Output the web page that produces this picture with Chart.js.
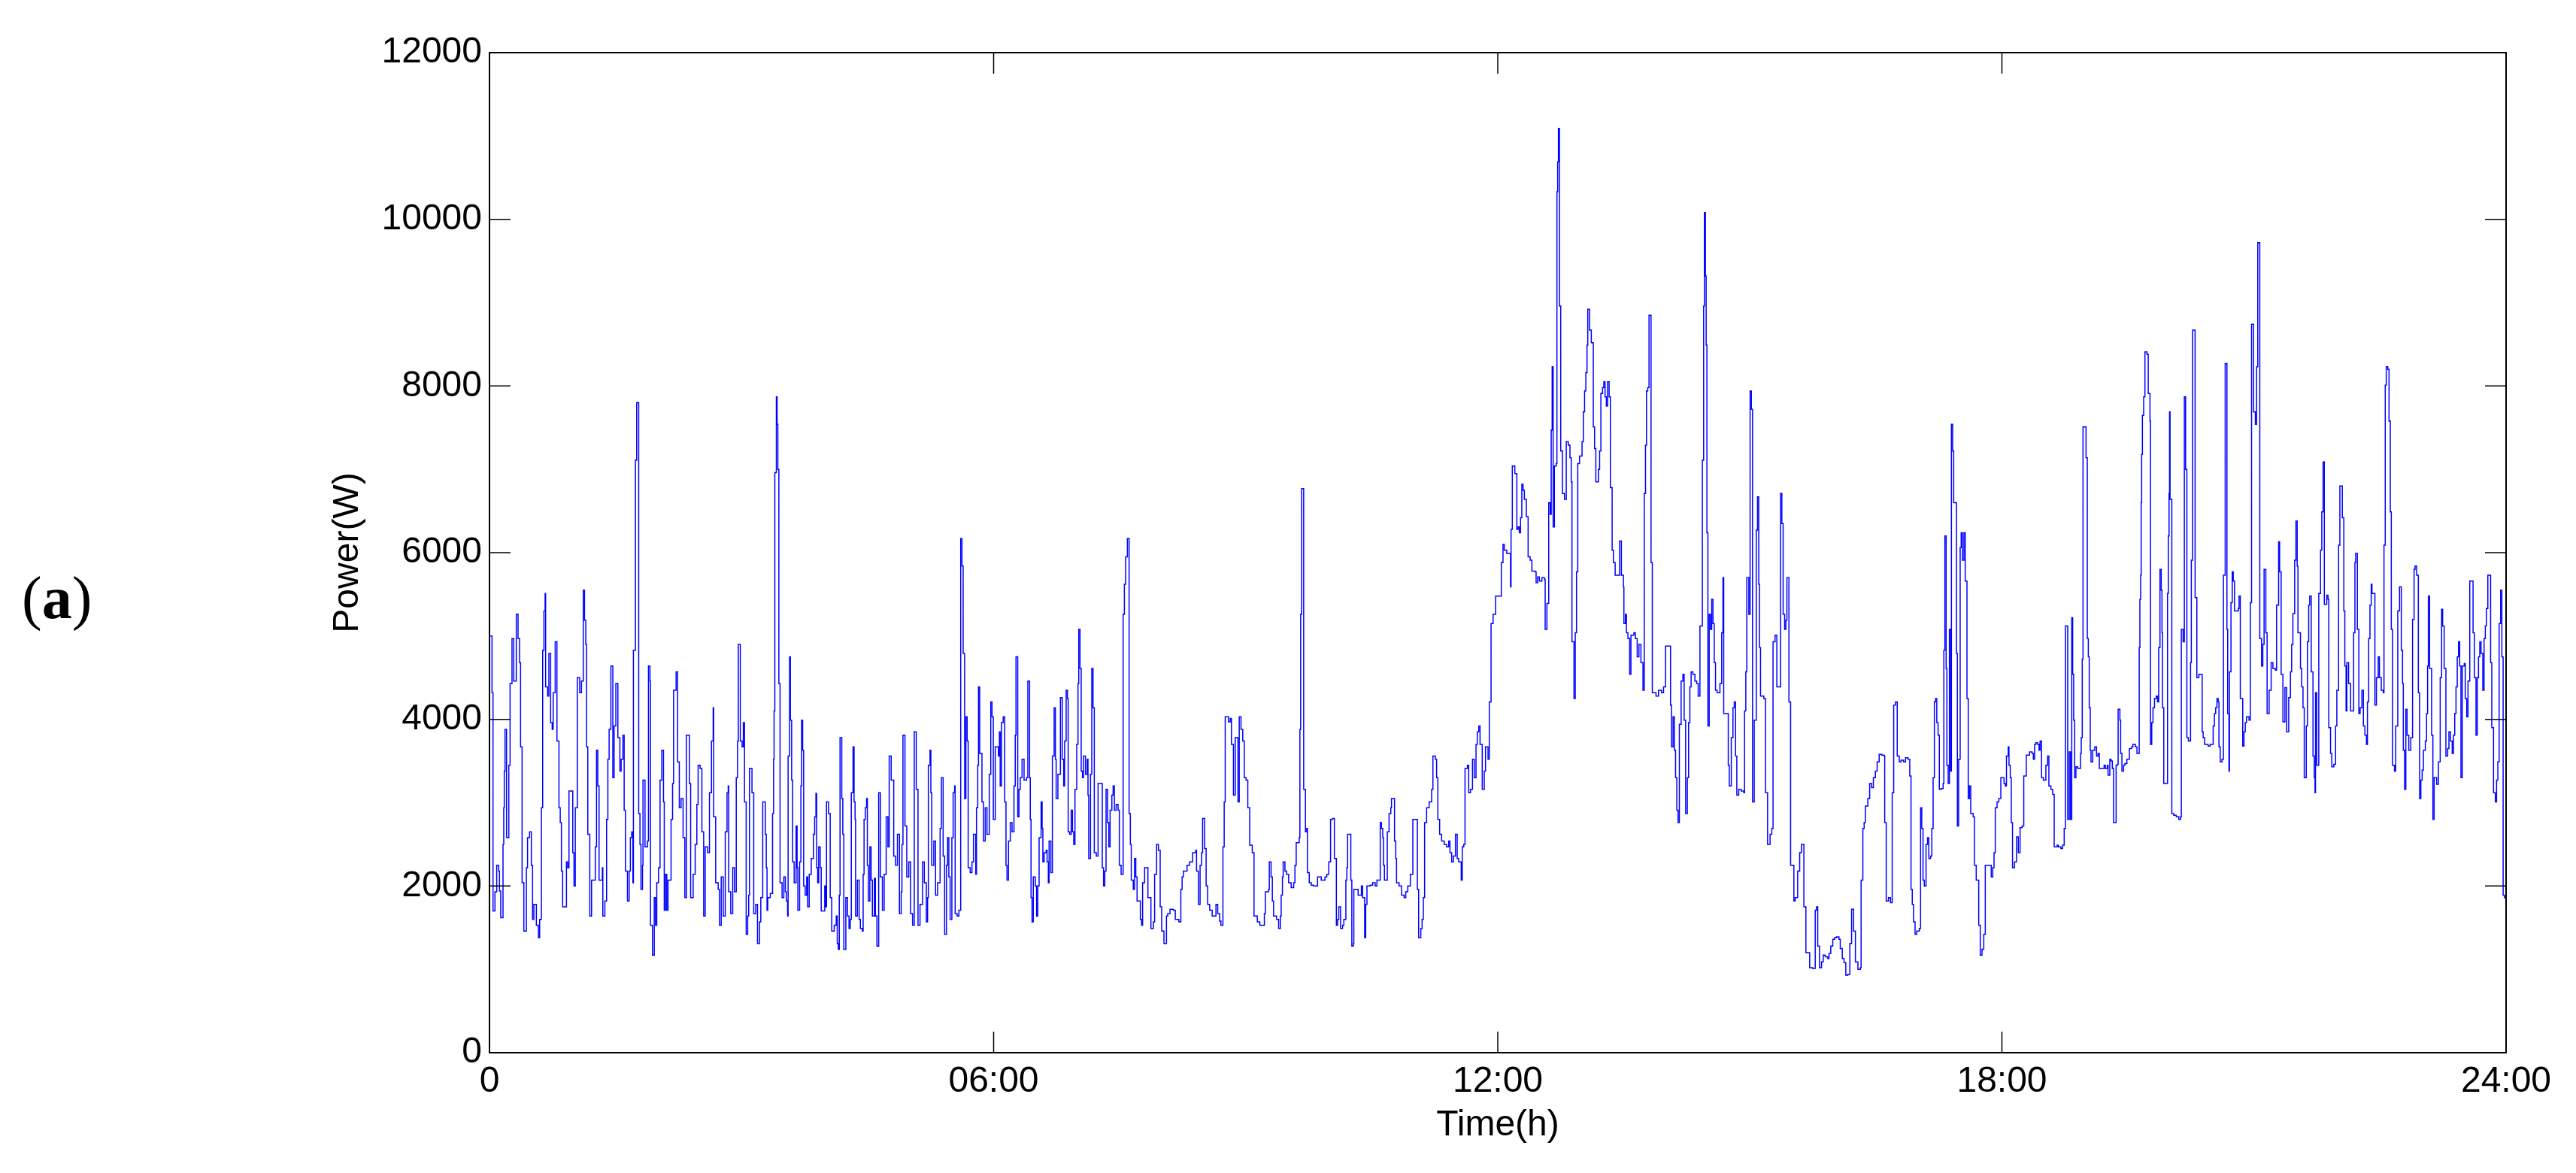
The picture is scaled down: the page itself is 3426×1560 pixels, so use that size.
<!DOCTYPE html>
<html>
<head>
<meta charset="utf-8">
<title>Power(W) over 24 h</title>
<script src="https://cdn.jsdelivr.net/npm/chart.js@4"></script>
<style>
  html, body { margin: 0; padding: 0; background: #fff; }
  canvas { display: block; }
</style>
</head>
<body>
<canvas id="powerChart" width="3426" height="1560" style="width:3426px;height:1560px"></canvas>
<script>
// x tick labels (hours 0, 6, 12, 18, 24)
const hourTicks = [0, 6, 12, 18, 24];
const hourLabels = ['0', '06:00', '12:00', '18:00', '24:00'];
const powerTicks = [0, 2000, 4000, 6000, 8000, 10000, 12000];

// samples: time in hours, power in W (one pair of arrays per 3 hours)
const hours00 = [
  0, 0.030, 0.042, 0.065, 0.086, 0.110, 0.119, 0.134, 0.161, 0.170,
  0.176, 0.185, 0.203, 0.230, 0.245, 0.268, 0.289, 0.319, 0.340, 0.358,
  0.370, 0.388, 0.409, 0.439, 0.453, 0.477, 0.498, 0.513, 0.528, 0.558,
  0.582, 0.597, 0.618, 0.633, 0.648, 0.662, 0.668, 0.692, 0.707, 0.728,
  0.746, 0.758, 0.782, 0.803, 0.827, 0.842, 0.856, 0.871, 0.916, 0.931,
  0.946, 0.991, 1.006, 1.021, 1.045, 1.074, 1.095, 1.116, 1.131, 1.146,
  1.155, 1.170, 1.194, 1.215, 1.259, 1.274, 1.289, 1.304, 1.343, 1.349,
  1.373, 1.394, 1.409, 1.424, 1.445, 1.468, 1.483, 1.504, 1.528, 1.552,
  1.567, 1.588, 1.603, 1.618, 1.642, 1.662, 1.677, 1.692, 1.707, 1.713,
  1.737, 1.752, 1.776, 1.791, 1.803, 1.821, 1.827, 1.851, 1.880, 1.892,
  1.910, 1.916, 1.940, 1.961, 1.976, 1.991, 2.012, 2.030, 2.051, 2.071,
  2.080, 2.095, 2.110, 2.125, 2.161, 2.179, 2.191, 2.221, 2.239, 2.259,
  2.280, 2.304, 2.325, 2.343, 2.379, 2.394, 2.424, 2.448, 2.468, 2.483,
  2.507, 2.528, 2.549, 2.567, 2.597, 2.618, 2.642, 2.662, 2.668, 2.692,
  2.722, 2.737, 2.758, 2.782, 2.806, 2.827, 2.841, 2.847, 2.871, 2.895,
  2.916, 2.937, 2.952, 2.961, 2.985, 3.006, 3.021, 3.035
];
const watts00 = [
  5000, 4320, 1700, 1930, 2250, 2180, 1940, 1620, 2500, 2940,
  3380, 3880, 2580, 3450, 4430, 4970, 4460, 5260, 4970, 4680,
  3670, 2040, 1460, 2220, 2580, 2650, 2250, 1600, 1780, 1530,
  1380, 1600, 2940, 4830, 5300, 5510, 4390, 4280, 4790, 3960,
  3880, 4320, 4930, 3740, 2940, 2760, 2180, 1750, 2290, 2220,
  3140, 2400, 2000, 2940, 4500, 4320, 4460, 5550, 5190, 4900,
  3670, 2620, 1640, 2070, 2470, 3630, 3200, 2070, 2220, 1640,
  1820, 2800, 3520, 3880, 4640, 3300, 3920, 4430, 3780, 3380,
  3520, 3810, 2910, 2180, 1820, 2180, 2580, 2650, 2040, 4830,
  7110, 7800, 2870, 2500, 1960, 2250, 3270, 2470, 2540, 4640,
  4460, 1530, 1170, 1860, 1530, 2040, 2220, 3270, 3630, 3010,
  1710, 2140, 1710, 2070, 2800, 3230, 4350, 4570, 3490, 2940,
  3050, 2580, 1860, 3810, 3230, 1860, 2140, 2500, 2980, 3450,
  3410, 2650, 1640, 2470, 2400, 3120, 3740, 4140, 2830, 2040,
  1960, 1530, 2110, 1640, 2650, 3120, 3200, 1930, 1670, 2220,
  1930, 3300, 3740, 4900, 3740, 3670, 3960, 3010
];

const hours03 = [
  3.055, 3.073, 3.085, 3.094, 3.124, 3.145, 3.169, 3.190, 3.214, 3.229,
  3.252, 3.282, 3.294, 3.303, 3.312, 3.342, 3.369, 3.381, 3.387, 3.396,
  3.414, 3.423, 3.432, 3.444, 3.458, 3.482, 3.503, 3.521, 3.533, 3.548,
  3.554, 3.572, 3.581, 3.596, 3.608, 3.626, 3.649, 3.661, 3.670, 3.691,
  3.706, 3.715, 3.727, 3.739, 3.757, 3.775, 3.787, 3.805, 3.829, 3.855,
  3.870, 3.885, 3.894, 3.906, 3.918, 3.936, 3.948, 3.990, 3.999, 4.011,
  4.035, 4.055, 4.073, 4.103, 4.127, 4.139, 4.151, 4.163, 4.172, 4.193,
  4.205, 4.217, 4.241, 4.261, 4.279, 4.294, 4.306, 4.327, 4.339, 4.351,
  4.357, 4.378, 4.399, 4.414, 4.438, 4.447, 4.458, 4.473, 4.488, 4.497,
  4.509, 4.527, 4.542, 4.557, 4.581, 4.593, 4.611, 4.632, 4.652, 4.676,
  4.697, 4.721, 4.742, 4.757, 4.781, 4.811, 4.832, 4.855, 4.879, 4.900,
  4.909, 4.921, 4.945, 4.966, 4.990, 5.011, 5.035, 5.055, 5.079, 5.100,
  5.124, 5.154, 5.175, 5.199, 5.214, 5.223, 5.243, 5.253, 5.264, 5.288,
  5.309, 5.333, 5.363, 5.378, 5.399, 5.417, 5.438, 5.452, 5.467, 5.482,
  5.503, 5.518, 5.536, 5.542, 5.566, 5.587, 5.608, 5.623, 5.637, 5.655,
  5.670, 5.685, 5.697, 5.721, 5.742, 5.760, 5.787, 5.796, 5.811, 5.820,
  5.834, 5.861, 5.879, 5.900, 5.921, 5.948, 5.966, 5.981, 5.996
];
const watts03 = [
  1420, 1640, 1890, 3410, 3120, 1670, 1780, 1310, 1570, 1860,
  3010, 2620, 2220, 1710, 1860, 1910, 2870, 3520, 4100, 6960,
  7870, 7540, 7000, 4430, 2040, 1860, 2110, 1930, 1820, 1640,
  3560, 4750, 3990, 3270, 2290, 2040, 2720, 2220, 1710, 2290,
  3200, 3990, 3630, 2000, 1890, 2110, 1750, 2140, 2330, 2620,
  2830, 3110, 2220, 2040, 2470, 2220, 1700, 2000, 1750, 3010,
  2870, 1860, 1460, 1530, 1640, 1310, 1240, 1890, 3780, 3050,
  2620, 1240, 1860, 1640, 1490, 1600, 3120, 3670, 3010, 2800,
  1640, 2070, 1600, 1490, 1460, 2140, 2800, 2940, 3050, 2250,
  1820, 2470, 2070, 1640, 2090, 1640, 1280, 3120, 2110, 1710,
  2140, 2830, 2470, 3560, 3270, 2360, 2250, 2620, 1670, 1930,
  2500, 3810, 2720, 2110, 2290, 1670, 1530, 3850, 3160, 1530,
  1780, 2290, 2040, 1570, 1860, 3450, 3630, 3120, 2250, 2540,
  1890, 2040, 2690, 3300, 2360, 1420, 2250, 2580, 2110, 1600,
  2580, 3120, 3200, 1670, 1640, 1710, 6170, 5840, 4790, 3050,
  4030, 3740, 2220, 2160, 2290, 2620, 2140, 2940, 3450, 4390,
  3590, 3010, 2540, 2940, 2620, 3340, 4210, 4030, 2800
];

const hours06 = [
  6.019, 6.057, 6.069, 6.078, 6.093, 6.114, 6.132, 6.147, 6.159, 6.177,
  6.198, 6.219, 6.242, 6.257, 6.266, 6.287, 6.302, 6.317, 6.338, 6.362,
  6.392, 6.407, 6.428, 6.436, 6.445, 6.457, 6.472, 6.496, 6.511, 6.526,
  6.541, 6.565, 6.577, 6.586, 6.601, 6.625, 6.636, 6.651, 6.660, 6.681,
  6.699, 6.720, 6.735, 6.744, 6.765, 6.795, 6.816, 6.834, 6.845, 6.863,
  6.878, 6.887, 6.905, 6.923, 6.938, 6.953, 6.968, 6.989, 7.004, 7.013,
  7.028, 7.042, 7.057, 7.069, 7.093, 7.114, 7.123, 7.132, 7.153, 7.168,
  7.183, 7.198, 7.222, 7.243, 7.293, 7.308, 7.323, 7.338, 7.356, 7.371,
  7.386, 7.407, 7.422, 7.437, 7.458, 7.481, 7.496, 7.517, 7.541, 7.556,
  7.571, 7.592, 7.612, 7.627, 7.638, 7.662, 7.677, 7.692, 7.707, 7.746,
  7.761, 7.773, 7.797, 7.836, 7.872, 7.901, 7.916, 7.940, 7.961, 7.982,
  8.000, 8.027, 8.057, 8.072, 8.099, 8.138, 8.162, 8.204, 8.228, 8.243,
  8.258, 8.302, 8.332, 8.368, 8.406, 8.415, 8.436, 8.457, 8.475, 8.487,
  8.511, 8.529, 8.547, 8.571, 8.601, 8.646, 8.667, 8.690, 8.705, 8.729,
  8.744, 8.756, 8.795, 8.816, 8.830, 8.854, 8.875, 8.908, 8.923, 8.944,
  8.965, 8.983
];
const watts06 = [
  3670, 3560, 3850, 3200, 3960, 4030, 3010, 2250, 2070, 2540,
  2760, 2650, 3200, 3810, 4750, 2830, 3160, 3300, 3520, 3270,
  3300, 4460, 3300, 2800, 1860, 1570, 2110, 2000, 1640, 2000,
  2580, 3010, 2690, 2290, 2400, 2430, 2290, 2040, 2540, 2160,
  3560, 4140, 3520, 3050, 3340, 4260, 3520, 3200, 3740, 4350,
  4250, 2650, 2620, 2910, 2650, 2500, 3160, 3700, 4430, 5080,
  4610, 3380, 3300, 3560, 3340, 3520, 3090, 2330, 3340, 4610,
  4140, 2400, 2360, 3230, 2220, 2000, 2180, 3160, 2760, 2470,
  2910, 3090, 3200, 2910, 2980, 2910, 2250, 2140, 5260, 5620,
  5950, 6170, 2870, 2500, 2070, 1960, 2330, 2110, 1820, 1600,
  1530, 2040, 2220, 1860, 1490, 1570, 2140, 2500, 2430, 1750,
  1460, 1310, 1640, 1670, 1720, 1710, 1600, 1570, 1960, 2110,
  2180, 2250, 2290, 2400, 2430, 2180, 1780, 2250, 2400, 2810,
  2450, 2000, 1780, 1710, 1640, 1780, 1670, 1580, 1530, 2470,
  3010, 4030, 3970, 4010, 3700, 3090, 3780, 3010, 4030, 3880,
  3740, 3300
];

const hours09 = [
  9.004, 9.025, 9.048, 9.078, 9.099, 9.138, 9.168, 9.222, 9.234, 9.272,
  9.281, 9.302, 9.317, 9.332, 9.368, 9.392, 9.413, 9.422, 9.437, 9.446,
  9.467, 9.487, 9.511, 9.541, 9.571, 9.586, 9.601, 9.637, 9.645, 9.654,
  9.666, 9.690, 9.711, 9.726, 9.735, 9.756, 9.780, 9.810, 9.855, 9.899,
  9.944, 9.965, 9.989, 10.010, 10.034, 10.055, 10.079, 10.094, 10.108, 10.129,
  10.153, 10.168, 10.192, 10.204, 10.213, 10.251, 10.263, 10.281, 10.287, 10.338,
  10.377, 10.391, 10.416, 10.428, 10.443, 10.481, 10.511, 10.541, 10.562, 10.601,
  10.616, 10.631, 10.640, 10.651, 10.685, 10.706, 10.727, 10.735, 10.771, 10.786,
  10.795, 10.825, 10.855, 10.885, 10.905, 10.929, 10.959, 10.989, 11.043, 11.058,
  11.084, 11.099, 11.114, 11.129, 11.153, 11.183, 11.213, 11.228, 11.258, 11.272,
  11.287, 11.308, 11.332, 11.362, 11.392, 11.416, 11.431, 11.451, 11.472, 11.496,
  11.517, 11.535, 11.565, 11.577, 11.595, 11.610, 11.639, 11.654, 11.675, 11.699,
  11.720, 11.741, 11.756, 11.774, 11.789, 11.815, 11.839, 11.854, 11.884, 11.899,
  11.920, 11.944, 11.974
];
const watts09 = [
  3270, 2940, 2490, 2400, 1640, 1570, 1530, 1670, 1930, 1960,
  2290, 2110, 1820, 1640, 1600, 1490, 1640, 1890, 2110, 2290,
  2180, 2140, 2040, 1980, 2040, 2250, 2520, 2580, 3880, 5260,
  6770, 3160, 2650, 2690, 2160, 2040, 2010, 2000, 2110, 2070,
  2110, 2140, 2290, 2800, 2810, 2330, 1530, 1600, 1750, 1490,
  1530, 1600, 2070, 2220, 2620, 2070, 1280, 1310, 1960, 1890,
  2000, 1860, 1380, 1780, 2000, 2010, 2040, 2000, 2070, 2760,
  2690, 2580, 2250, 2070, 2650, 2870, 2940, 3050, 2540, 2330,
  2040, 2000, 1890, 1860, 1930, 2000, 2140, 2800, 1960, 1380,
  1490, 1600, 1860, 2760, 2940, 3010, 3160, 3560, 3520, 3300,
  2800, 2620, 2540, 2500, 2470, 2540, 2400, 2290, 2360, 2620,
  2330, 2290, 2070, 2470, 2500, 3410, 3450, 3120, 3160, 3520,
  3300, 3700, 3850, 3920, 3700, 3160, 3380, 3670, 3520, 4210,
  5150, 5260, 5480
];

const hours12 = [
  12.042, 12.062, 12.077, 12.107, 12.152, 12.158, 12.173, 12.203, 12.227, 12.242,
  12.256, 12.271, 12.286, 12.301, 12.316, 12.340, 12.361, 12.385, 12.406, 12.444,
  12.456, 12.474, 12.495, 12.525, 12.555, 12.564, 12.585, 12.606, 12.624, 12.636,
  12.647, 12.659, 12.674, 12.695, 12.704, 12.713, 12.722, 12.734, 12.749, 12.770,
  12.794, 12.815, 12.839, 12.859, 12.874, 12.883, 12.907, 12.922, 12.937, 12.952,
  12.973, 13.003, 13.018, 13.033, 13.048, 13.062, 13.071, 13.092, 13.113, 13.137,
  13.152, 13.167, 13.197, 13.212, 13.227, 13.247, 13.262, 13.277, 13.292, 13.307,
  13.325, 13.340, 13.361, 13.376, 13.397, 13.450, 13.471, 13.495, 13.501, 13.519,
  13.531, 13.549, 13.570, 13.585, 13.620, 13.638, 13.659, 13.680, 13.704, 13.728,
  13.743, 13.758, 13.770, 13.785, 13.800, 13.824, 13.839, 13.883, 13.913, 13.949,
  13.973, 13.997, 14.056, 14.068, 14.086, 14.101, 14.116, 14.131, 14.146, 14.161,
  14.182, 14.203, 14.218, 14.236, 14.256, 14.271, 14.286, 14.301, 14.322, 14.346,
  14.367, 14.385, 14.406, 14.435, 14.450, 14.459, 14.471, 14.480, 14.489, 14.501,
  14.516, 14.531, 14.546, 14.561, 14.576, 14.591, 14.609, 14.644, 14.665, 14.680,
  14.689, 14.743, 14.755, 14.779, 14.799, 14.814, 14.830, 14.845, 14.868, 14.898,
  14.928, 14.937, 14.952, 14.964, 14.988, 15.003, 15.018, 15.032
];
const watts12 = [
  5880, 6100, 6030, 5990, 5590, 6280, 7040, 6950, 6280, 6310,
  6240, 6420, 6820, 6750, 6640, 6430, 5950, 5910, 5780, 5770,
  5640, 5710, 5660, 5700, 5680, 5080, 5390, 6600, 6460, 7470,
  8230, 6310, 7040, 7070, 10330, 10690, 11090, 8960, 7220, 6710,
  6640, 7330, 7290, 7140, 6850, 4930, 4250, 5040, 5770, 7070,
  7160, 7330, 7690, 7940, 8160, 8490, 8920, 8670, 8520, 7510,
  7250, 6850, 7000, 7220, 7910, 7980, 8050, 7870, 7760, 8050,
  7870, 6780, 6030, 5880, 5730, 6140, 5730, 5590, 5150, 5260,
  5040, 4970, 4540, 5010, 5040, 4970, 4750, 4900, 4680, 4350,
  6710, 7290, 7940, 7980, 8850, 5880, 4320, 4280, 4350, 4320,
  4390, 4880, 4170, 3670, 4030, 3630, 3300, 2910, 2760, 3940,
  4460, 4540, 3990, 2870, 3300, 3960, 4390, 4570, 4540, 4460,
  4430, 4280, 5120, 7110, 8960, 10080, 9320, 8490, 6240, 3920,
  5260, 5080, 5440, 5150, 4680, 4350, 4320, 4430, 5040, 5700,
  4070, 3450, 3200, 3780, 4140, 4210, 3560, 3090, 3160, 3140,
  3120, 4100, 4570, 5700, 5260, 7940, 7720, 3010
];

const hours15 = [
  15.052, 15.076, 15.091, 15.106, 15.115, 15.127, 15.166, 15.187, 15.211, 15.241,
  15.261, 15.276, 15.300, 15.321, 15.366, 15.381, 15.396, 15.414, 15.429, 15.441,
  15.465, 15.485, 15.524, 15.539, 15.569, 15.593, 15.614, 15.643, 15.667, 15.712,
  15.748, 15.778, 15.793, 15.808, 15.829, 15.853, 15.873, 15.897, 15.927, 15.942,
  15.963, 15.987, 16.008, 16.031, 16.061, 16.076, 16.100, 16.121, 16.142, 16.166,
  16.190, 16.211, 16.235, 16.256, 16.286, 16.315, 16.324, 16.345, 16.360, 16.375,
  16.404, 16.426, 16.449, 16.470, 16.494, 16.515, 16.539, 16.569, 16.599, 16.605,
  16.623, 16.650, 16.674, 16.694, 16.712, 16.733, 16.754, 16.778, 16.799, 16.829,
  16.853, 16.882, 16.903, 16.918, 16.933, 16.948, 16.966, 16.987, 17.017, 17.032,
  17.046, 17.061, 17.076, 17.097, 17.115, 17.130, 17.151, 17.166, 17.181, 17.196,
  17.210, 17.225, 17.240, 17.255, 17.276, 17.300, 17.309, 17.321, 17.336, 17.345,
  17.360, 17.375, 17.390, 17.399, 17.414, 17.426, 17.459, 17.470, 17.485, 17.503,
  17.515, 17.530, 17.548, 17.563, 17.584, 17.599, 17.614, 17.629, 17.658, 17.673,
  17.694, 17.724, 17.742, 17.763, 17.784, 17.802, 17.873, 17.891, 17.906, 17.921,
  17.942, 17.963, 17.987
];
const watts15 = [
  3990, 6270, 6670, 5620, 4860, 4280, 4250, 3120, 2500, 2620,
  2690, 4930, 5010, 4390, 6710, 6350, 5260, 5080, 5190, 5700,
  4210, 2250, 1820, 1860, 2180, 2400, 2500, 1750, 1200, 1020,
  1010, 1710, 1750, 1280, 1020, 1090, 1170, 1150, 1130, 1190,
  1280, 1360, 1380, 1390, 1360, 1250, 1130, 1080, 930, 940,
  1310, 1720, 1460, 1090, 1000, 1020, 2070, 2690, 2760, 2960,
  3050, 3230, 3180, 3300, 3380, 3490, 3580, 3570, 3560, 2760,
  1820, 1860, 1800, 3120, 4170, 4210, 3560, 3490, 3510, 3490,
  3540, 3520, 3320, 1960, 1780, 1570, 1420, 1460, 1490, 2940,
  2690, 2070, 2000, 2500, 2580, 2330, 2360, 2690, 3300, 4210,
  4250, 3960, 3810, 3160, 3170, 3230, 4830, 6200, 4610, 3450,
  3230, 5080, 3380, 7540, 7220, 6600, 4790, 2720, 3520, 6060,
  6240, 5910, 6240, 5660, 4250, 3050, 3200, 2870, 2830, 2250,
  2070, 1530, 1170, 1240, 1420, 2250, 2110, 2220, 2400, 2940,
  3010, 3050, 3300
];

const hours18 = [
  18.025, 18.040, 18.054, 18.075, 18.084, 18.099, 18.111, 18.126, 18.150, 18.174,
  18.195, 18.216, 18.240, 18.260, 18.290, 18.329, 18.359, 18.374, 18.389, 18.404,
  18.425, 18.442, 18.454, 18.472, 18.493, 18.523, 18.544, 18.559, 18.583, 18.604,
  18.622, 18.657, 18.672, 18.702, 18.723, 18.741, 18.756, 18.783, 18.801, 18.816,
  18.831, 18.842, 18.854, 18.866, 18.881, 18.902, 18.935, 18.944, 18.956, 18.965,
  19.001, 19.016, 19.028, 19.039, 19.051, 19.060, 19.081, 19.105, 19.126, 19.144,
  19.159, 19.216, 19.231, 19.254, 19.263, 19.284, 19.299, 19.314, 19.329, 19.359,
  19.374, 19.383, 19.404, 19.413, 19.428, 19.448, 19.463, 19.487, 19.517, 19.544,
  19.559, 19.589, 19.607, 19.634, 19.642, 19.651, 19.657, 19.663, 19.672, 19.687,
  19.702, 19.726, 19.741, 19.762, 19.768, 19.783, 19.798, 19.816, 19.837, 19.852,
  19.866, 19.881, 19.896, 19.905, 19.911, 19.926, 19.971, 19.980, 19.989, 19.995,
  20.001, 20.022, 20.045, 20.075, 20.105, 20.126, 20.135, 20.156, 20.171, 20.186,
  20.201, 20.219, 20.245, 20.254, 20.269, 20.299, 20.320, 20.344, 20.383, 20.395,
  20.413, 20.454, 20.478, 20.514, 20.529, 20.544, 20.559, 20.574, 20.583, 20.598,
  20.619, 20.636, 20.657, 20.678, 20.687, 20.702, 20.708, 20.726, 20.741, 20.753,
  20.768, 20.813, 20.822, 20.837, 20.866, 20.881, 20.896, 20.911, 20.941
];
const watts18 = [
  3230, 3200, 3560, 3670, 3450, 3300, 2760, 2220, 2290, 2590,
  2400, 2700, 2720, 3320, 3570, 3610, 3590, 3520, 3700, 3720,
  3700, 3630, 3740, 3300, 3270, 3450, 3560, 3200, 3160, 3100,
  2470, 2490, 2470, 2450, 2490, 2690, 5120, 2800, 3610, 2800,
  5220, 4540, 3990, 3300, 3430, 3410, 3590, 3780, 4720, 7510,
  7140, 4970, 4750, 4140, 3630, 3490, 3630, 3670, 3560, 3590,
  3410, 3450, 3410, 3450, 3330, 3520, 3500, 3410, 2760, 3450,
  3460, 4120, 3990, 3590, 3380, 3450, 3470, 3520, 3650, 3670,
  3700, 3670, 3590, 4860, 5440, 5730, 6600, 7180, 7650, 7870,
  8410, 8380, 7910, 7580, 3700, 3960, 4140, 4250, 4280, 4210,
  4860, 5800, 5550, 5040, 4140, 3230, 5510, 6200, 6710, 7690,
  6640, 2870, 2850, 2830, 2800, 2830, 5080, 4930, 7870, 7000,
  3780, 3740, 4680, 5910, 8670, 5460, 4500, 4540, 3850, 3780,
  3700, 3680, 3700, 3920, 4070, 4140, 4250, 4210, 3670, 3490,
  3520, 5730, 8270, 5080, 4070, 3380, 4570, 5400, 5770, 5660,
  5300, 5330, 5480, 4250, 3680, 3850, 3960, 4030, 3990
];

const hours21 = [
  20.956, 20.971, 20.995, 21.016, 21.031, 21.045, 21.069, 21.090, 21.105, 21.120,
  21.141, 21.156, 21.180, 21.204, 21.225, 21.254, 21.269, 21.293, 21.305, 21.323,
  21.344, 21.368, 21.389, 21.413, 21.434, 21.448, 21.463, 21.484, 21.499, 21.514,
  21.523, 21.553, 21.568, 21.583, 21.598, 21.622, 21.636, 21.651, 21.663, 21.681,
  21.702, 21.717, 21.726, 21.732, 21.747, 21.771, 21.792, 21.807, 21.822, 21.837,
  21.866, 21.881, 21.890, 21.911, 21.926, 21.950, 21.971, 21.986, 22.007, 22.022,
  22.051, 22.069, 22.081, 22.096, 22.105, 22.126, 22.150, 22.186, 22.201, 22.210,
  22.230, 22.248, 22.263, 22.284, 22.302, 22.320, 22.338, 22.350, 22.365, 22.380,
  22.395, 22.404, 22.439, 22.457, 22.478, 22.493, 22.514, 22.538, 22.547, 22.562,
  22.574, 22.592, 22.607, 22.622, 22.634, 22.648, 22.672, 22.687, 22.711, 22.732,
  22.753, 22.768, 22.777, 22.792, 22.807, 22.822, 22.842, 22.866, 22.887, 22.905,
  22.917, 22.935, 22.956, 22.971, 22.986, 23.001, 23.016, 23.039, 23.054, 23.066,
  23.075, 23.090, 23.114, 23.129, 23.144, 23.174, 23.195, 23.216, 23.233, 23.245,
  23.263, 23.284, 23.305, 23.320, 23.338, 23.359, 23.374, 23.389, 23.404, 23.419,
  23.434, 23.448, 23.463, 23.478, 23.502, 23.514, 23.532, 23.547, 23.568, 23.607,
  23.622, 23.642, 23.657, 23.672, 23.687, 23.702, 23.723, 23.738, 23.753, 23.765,
  23.783, 23.816, 23.830, 23.851, 23.872, 23.887, 23.902, 23.917, 23.935, 23.950,
  23.965, 23.980, 24.000
];
const watts21 = [
  5400, 8740, 7690, 7540, 8230, 9720, 4970, 4640, 4900, 5800,
  5040, 4070, 4350, 4680, 4610, 4590, 5370, 6130, 5770, 4540,
  3970, 4380, 3850, 4260, 4570, 4900, 5270, 5910, 6380, 5840,
  5040, 4610, 4390, 4140, 3300, 3920, 4930, 5370, 5480, 4570,
  3560, 3300, 3120, 4320, 3450, 5510, 6030, 6490, 7090, 5380,
  5490, 5440, 3900, 3590, 3430, 3460, 3920, 4350, 6090, 6800,
  6420, 5300, 4640, 4100, 4680, 4430, 4100, 5040, 5880, 5990,
  5080, 4070, 4140, 4350, 3920, 3810, 3700, 4210, 4970, 5370,
  5620, 5510, 4170, 4500, 4750, 4500, 4350, 4320, 6090, 8010,
  8230, 8200, 7580, 6490, 5080, 3450, 3380, 3920, 5300, 5590,
  4830, 4430, 3630, 3160, 4120, 3810, 3630, 3780, 5200, 5800,
  5840, 5730, 4320, 3050, 3270, 3390, 3630, 3740, 4070, 4640,
  5480, 4610, 3810, 2800, 3300, 3220, 3490, 4500, 5320, 5120,
  4610, 3560, 3650, 3850, 3740, 3590, 3810, 4070, 4390, 4750,
  4930, 4640, 3300, 4640, 4670, 4250, 4030, 4460, 5660, 5040,
  4500, 3810, 4500, 4750, 4930, 4790, 4350, 4970, 5120, 5330,
  5730, 4680, 3900, 3120, 3010, 3270, 3490, 5150, 5550, 4750,
  1890, 1860, 1890
];

const segments = [
  [hours00, watts00], [hours03, watts03], [hours06, watts06], [hours09, watts09],
  [hours12, watts12], [hours15, watts15], [hours18, watts18], [hours21, watts21]
];
segments.forEach(([h, w], i) => {
  if (h.length !== w.length) {
    throw new Error('segment ' + i + ': ' + h.length + ' hours vs ' + w.length + ' watts');
  }
});
const points = [];
segments.forEach(([h, w]) => h.forEach((t, i) => points.push({ x: t, y: w[i] })));

// MATLAB-style box with inward tick marks, plus the "(a)" panel label
const TICK_LEN = 28;
const matlabBox = {
  id: 'matlabBox',
  afterDatasetsDraw(chart) {
    const { ctx, chartArea: a, scales: { x, y } } = chart;
    ctx.save();
    ctx.strokeStyle = '#000';
    ctx.lineWidth = 1.5;
    ctx.beginPath();
    powerTicks.forEach(v => {
      const py = y.getPixelForValue(v);
      ctx.moveTo(a.left, py); ctx.lineTo(a.left + TICK_LEN, py);
      ctx.moveTo(a.right, py); ctx.lineTo(a.right - TICK_LEN, py);
    });
    hourTicks.forEach(v => {
      const px = x.getPixelForValue(v);
      ctx.moveTo(px, a.bottom); ctx.lineTo(px, a.bottom - TICK_LEN);
      ctx.moveTo(px, a.top); ctx.lineTo(px, a.top + TICK_LEN);
    });
    ctx.stroke();
    ctx.lineWidth = 2;
    ctx.strokeRect(a.left, a.top, a.right - a.left, a.bottom - a.top);
    ctx.restore();
  },
  afterDraw(chart) {
    const { ctx } = chart;
    ctx.save();
    ctx.fillStyle = '#000';
    ctx.textBaseline = 'alphabetic';
    ctx.textAlign = 'left';
    let px = 29;
    const base = 822;
    const parts = [['(', 'normal'], ['a', 'bold'], [')', 'normal']];
    parts.forEach(([s, weight]) => {
      ctx.font = weight + ' 80px "Liberation Serif", "Times New Roman", serif';
      ctx.fillText(s, px, base);
      px += ctx.measureText(s).width;
    });
    ctx.restore();
  }
};

Chart.defaults.font.family = '"Liberation Sans", Arial, Helvetica, sans-serif';
Chart.defaults.color = '#000';

new Chart(document.getElementById('powerChart').getContext('2d'), {
  type: 'line',
  data: {
    datasets: [{
      label: 'Power',
      data: points,
      borderColor: '#0000ff',
      borderWidth: 1.5,
      pointRadius: 0,
      stepped: 'before',
      fill: false
    }]
  },
  options: {
    responsive: false,
    animation: false,
    devicePixelRatio: 1,
    layout: { padding: { left: 0, top: 70, right: 93, bottom: 0 } },
    plugins: {
      legend: { display: false },
      tooltip: { enabled: false }
    },
    scales: {
      x: {
        type: 'linear',
        min: 0,
        max: 24,
        grid: { display: false, drawTicks: false, tickLength: 0 },
        border: { display: false },
        ticks: {
          stepSize: 6,
          autoSkip: false,
          maxRotation: 0,
          padding: 10,
          font: { size: 48 },
          callback: v => hourLabels[hourTicks.indexOf(v)] ?? ''
        },
        title: {
          display: true,
          text: 'Time(h)',
          font: { size: 48 },
          padding: { top: 0, bottom: 34 }
        },
        afterFit: scale => { scale.height = 160; }
      },
      y: {
        min: 0,
        max: 12000,
        grid: { display: false, drawTicks: false, tickLength: 0 },
        border: { display: false },
        ticks: {
          stepSize: 2000,
          padding: 10,
          font: { size: 48 },
          callback: v => String(v)
        },
        title: {
          display: true,
          text: 'Power(W)',
          font: { size: 48 },
          padding: { top: 434, bottom: 0 }
        },
        afterFit: scale => { scale.width = 651; }
      }
    }
  },
  plugins: [matlabBox]
});
</script>
</body>
</html>
